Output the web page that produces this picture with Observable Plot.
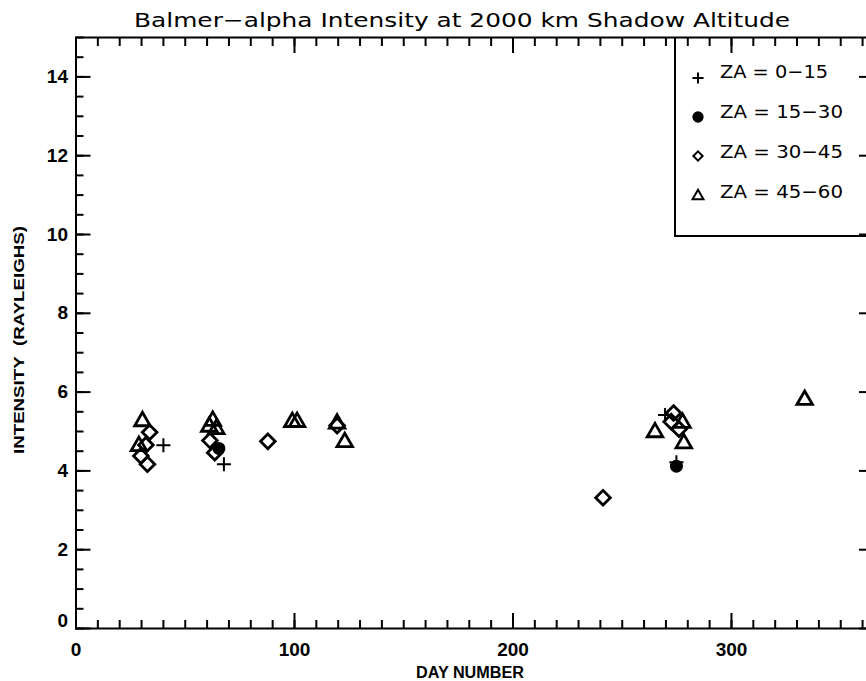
<!DOCTYPE html>
<html><head><meta charset="utf-8">
<script src="https://cdn.jsdelivr.net/npm/d3@7"></script>
<script src="https://cdn.jsdelivr.net/npm/@observablehq/plot@0.6"></script>
<style>
html,body{margin:0;padding:0;background:#fff;overflow:hidden;}
#wrap{position:relative;width:866px;height:681px;overflow:hidden;background:#fff;}
#wrap > svg{position:absolute;left:0;top:0;max-width:none !important;height:681px !important;}
</style></head><body><div id="wrap"></div>
<script>
// ---- text ----
const titleText = "Balmer\u2212alpha Intensity at 2000 km Shadow Altitude";
const xLabel = "DAY NUMBER";
const yLabel = "INTENSITY\u00a0\u00a0(RAYLEIGHS)";
const seriesNames = ["ZA = 0\u221215", "ZA = 15\u221230", "ZA = 30\u221245", "ZA = 45\u221260"];
const seriesSymbols = ["plus", "circle", "diamond2", "triangle2"];

// ---- data ----
const day_za0_15 = [40.0, 67.7, 269.6, 274.8];
const int_za0_15 = [4.65, 4.17, 5.42, 4.22];

const day_za15_30 = [65.4, 274.8];
const int_za15_30 = [4.57, 4.12];

const day_za30_45 = [33.7, 32.0, 29.7, 32.7, 61.3, 63.5, 87.8, 119.5, 273.5, 272.4, 276.0, 241.2];
const int_za30_45 = [4.98, 4.66, 4.38, 4.17, 4.77, 4.46, 4.75, 5.15, 5.47, 5.25, 5.06, 3.32];

const day_za45_60 = [30.4, 28.8, 62.6, 61.0, 64.2, 99.0, 101.2, 119.5, 123.0, 265.0, 277.6, 278.2, 333.5];
const int_za45_60 = [5.26, 4.63, 5.27, 5.12, 5.06, 5.24, 5.24, 5.20, 4.73, 4.98, 5.22, 4.70, 5.80];

// ---- ticks ----
const xTickLabels = [0, 100, 200, 300];
const yTickLabels = [0, 2, 4, 6, 8, 10, 12, 14];
const xMinorStep = 10;
const yMinorStep = 0.5;

const toRows = (xs, ys) => xs.map((d, i) => ({day: d, intensity: ys[i]}));
const s0 = toRows(day_za0_15, int_za0_15);
const s1 = toRows(day_za15_30, int_za15_30);
const s2 = toRows(day_za30_45, int_za30_45);
const s3 = toRows(day_za45_60, int_za45_60);

const xMinor = d3.range(0, 366, xMinorStep);
const yMinor = d3.range(0, 15.01, yMinorStep);
const yMajorNoZero = yTickLabels.filter(v => v !== 0);

const F = "Liberation Sans, Arial, sans-serif";
const blank = () => "";

const chart = Plot.plot({
  width: 876, height: 681,
  marginLeft: 75.5, marginRight: 3, marginTop: 37, marginBottom: 53,
  x: {domain: [0, 365], label: null},
  y: {domain: [0, 15], label: null},
  style: {background: "white", color: "black", overflow: "visible", fontSize: "18px", fontWeight: "bold", fontFamily: F, maxWidth: "none"},
  marks: [
    // minor + major ticks, inward, on all four sides
    Plot.axisX({anchor: "bottom", ticks: xMinor, tickSize: -8, tickFormat: blank, strokeWidth: 2}),
    Plot.axisX({anchor: "bottom", ticks: xTickLabels, tickSize: -15, tickFormat: blank, strokeWidth: 2}),
    Plot.axisX({anchor: "top", ticks: xMinor, tickSize: -8, tickFormat: blank, strokeWidth: 2}),
    Plot.axisX({anchor: "top", ticks: xTickLabels, tickSize: -15, tickFormat: blank, strokeWidth: 2}),
    Plot.axisY({anchor: "left", ticks: yMinor, tickSize: -8, tickFormat: blank, strokeWidth: 2}),
    Plot.axisY({anchor: "left", ticks: yTickLabels, tickSize: -15, tickFormat: blank, strokeWidth: 2}),
    Plot.axisY({anchor: "right", ticks: yMinor, tickSize: -8, tickFormat: blank, strokeWidth: 2}),
    Plot.axisY({anchor: "right", ticks: yTickLabels, tickSize: -15, tickFormat: blank, strokeWidth: 2}),
    // tick labels
    Plot.axisX({anchor: "bottom", ticks: xTickLabels, tickSize: 0, tickPadding: 14, fontSize: 19, fontWeight: "bold", fontFamily: F}),
    Plot.axisY({anchor: "left", ticks: yMajorNoZero, tickSize: 0, tickPadding: 8, fontSize: 19, fontWeight: "bold", fontFamily: F}),
    Plot.axisY({anchor: "left", ticks: [0], tickSize: 0, tickPadding: 8, dy: -8, fontSize: 19, fontWeight: "bold", fontFamily: F}),
    Plot.frame({strokeWidth: 2}),
    // data
    Plot.dot(s0, {x: "day", y: "intensity", symbol: seriesSymbols[0], r: 4.6, stroke: "black", strokeWidth: 2}),
    Plot.dot(s2, {x: "day", y: "intensity", symbol: seriesSymbols[2], r: 6.6, stroke: "black", strokeWidth: 2.8, fill: "none"}),
    Plot.dot(s3, {x: "day", y: "intensity", symbol: seriesSymbols[3], r: 7.4, stroke: "black", strokeWidth: 2.8, fill: "none"}),
    Plot.dot(s1, {x: "day", y: "intensity", symbol: seriesSymbols[1], r: 6.5, fill: "black", stroke: "none"})
  ]
});

const wrap = document.getElementById("wrap");
wrap.appendChild(chart);

// overlay: title, axis titles, legend
const ns = "http://www.w3.org/2000/svg";
const ov = d3.select(wrap).append("svg")
  .attr("xmlns", ns).attr("width", 866).attr("height", 681)
  .style("pointer-events", "none");

ov.append("text").attr("x", 462).attr("y", 27).attr("text-anchor", "middle")
  .attr("font-family", "DejaVu Sans, sans-serif").attr("font-size", 20)
  .attr("textLength", 656).attr("lengthAdjust", "spacingAndGlyphs")
  .text(titleText);

ov.append("text").attr("x", 470).attr("y", 678).attr("text-anchor", "middle")
  .attr("font-family", F).attr("font-weight", "bold").attr("font-size", 16)
  .attr("textLength", 108).attr("lengthAdjust", "spacingAndGlyphs")
  .text(xLabel);

ov.append("text").attr("transform", "translate(24,340) rotate(-90)").attr("text-anchor", "middle")
  .attr("font-family", F).attr("font-weight", "bold").attr("font-size", 15)
  .attr("textLength", 228).attr("lengthAdjust", "spacingAndGlyphs")
  .text(yLabel);

// legend box
ov.append("path").attr("d", "M675,37V236H873").attr("fill", "none").attr("stroke", "black").attr("stroke-width", 2);
const legW = [108, 123, 123, 123];
const legSize = [42, 100, 55, 85];
const legY = [78, 117, 156, 196];
seriesNames.forEach((name, i) => {
  const symName = seriesSymbols[i];
  const sym = {plus: d3.symbolPlus, circle: d3.symbolCircle, diamond2: d3.symbolDiamond2, triangle2: d3.symbolTriangle2}[symName];
  ov.append("path").attr("transform", `translate(698,${legY[i]})`)
    .attr("d", d3.symbol(sym, legSize[i])())
    .attr("fill", symName === "circle" ? "black" : "none")
    .attr("stroke", symName === "circle" ? "none" : "black")
    .attr("stroke-width", 2);
  ov.append("text").attr("x", 720).attr("y", 78 + i * 40)
    .attr("font-family", "DejaVu Sans, sans-serif").attr("font-size", 18)
    .attr("textLength", legW[i]).attr("lengthAdjust", "spacingAndGlyphs")
    .text(name);
});
</script></body></html>
